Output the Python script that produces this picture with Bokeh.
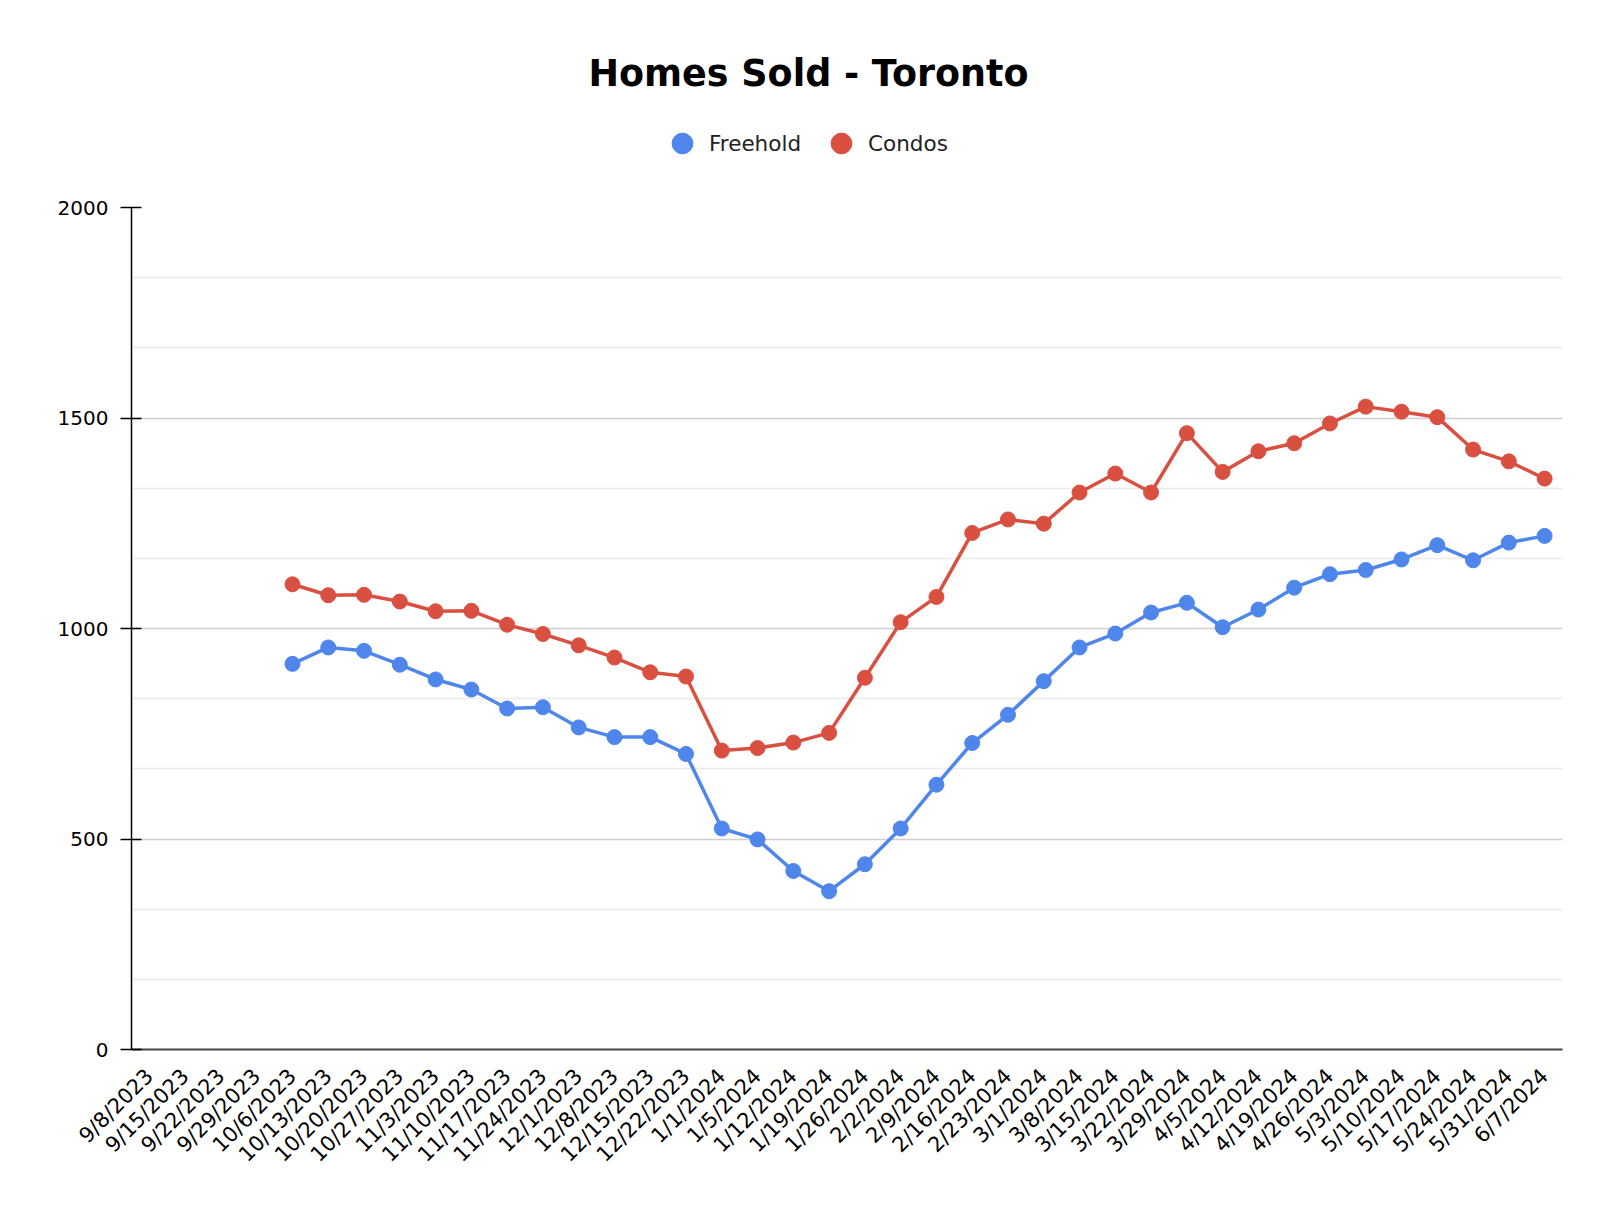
import math
from bokeh.plotting import figure
from bokeh.layouts import column
from bokeh.models import (FactorRange, Range1d, FixedTicker, Legend, LegendItem,
                          Label, ColumnDataSource)
from bokeh.embed import file_html
from bokeh.resources import INLINE

dates = ["9/8/2023", "9/15/2023", "9/22/2023", "9/29/2023", "10/6/2023", "10/13/2023",
         "10/20/2023", "10/27/2023", "11/3/2023", "11/10/2023", "11/17/2023", "11/24/2023",
         "12/1/2023", "12/8/2023", "12/15/2023", "12/22/2023", "1/1/2024", "1/5/2024",
         "1/12/2024", "1/19/2024", "1/26/2024", "2/2/2024", "2/9/2024", "2/16/2024",
         "2/23/2024", "3/1/2024", "3/8/2024", "3/15/2024", "3/22/2024", "3/29/2024",
         "4/5/2024", "4/12/2024", "4/19/2024", "4/26/2024", "5/3/2024", "5/10/2024",
         "5/17/2024", "5/24/2024", "5/31/2024", "6/7/2024"]

# values start at 10/6/2023
data_dates = dates[4:]
freehold = [916, 955, 947, 914, 879, 855, 810, 813, 765, 742, 742, 702,
            525, 499, 424, 376, 440, 525, 629, 728, 795, 875, 955, 988,
            1038, 1061, 1003, 1045, 1097, 1129, 1139, 1164, 1198, 1162, 1204, 1220]
condos = [1105, 1079, 1080, 1064, 1041, 1042, 1009, 987, 960, 931, 896, 886,
          710, 716, 729, 752, 883, 1015, 1075, 1227, 1259, 1249, 1323, 1368,
          1323, 1464, 1372, 1421, 1440, 1487, 1527, 1515, 1502, 1425, 1397, 1356]

y_major = [0, 500, 1000, 1500, 2000]
y_minor = [v * 500 / 3 for v in range(13) if v % 3 != 0]

TITLE = "Homes Sold - Toronto"
BLUE = "#4f86ec"
RED = "#d95040"
FONT = "DejaVu Sans"

W = 1614
HEAD_H = 187
LEFT, RIGHT = 131, 52

# ---- header: title + legend ----
head = figure(width=W, height=HEAD_H, x_range=Range1d(LEFT, W - RIGHT),
              y_range=Range1d(0, HEAD_H),
              x_axis_type=None, y_axis_type=None, output_backend="svg",
              toolbar_location=None, min_border_left=LEFT, min_border_right=RIGHT,
              min_border_top=0, min_border_bottom=0)
head.outline_line_color = None
head.grid.visible = False

dummy = ColumnDataSource(dict(x=[float("nan")], y=[float("nan")]))
lg_f = head.scatter("x", "y", source=dummy, fill_color=BLUE, line_color=BLUE)
lg_c = head.scatter("x", "y", source=dummy, fill_color=RED, line_color=RED)
legend = Legend(items=[LegendItem(label="Freehold", renderers=[lg_f]),
                       LegendItem(label="Condos", renderers=[lg_c])],
                orientation="horizontal", location=(525, 18),
                glyph_width=52, glyph_height=52, label_standoff=1, spacing=14,
                padding=0, margin=0, border_line_color=None,
                background_fill_alpha=0,
                label_text_font=FONT, label_text_font_size="21.5px",
                label_text_color="#222222")
head.add_layout(legend, "center")

title = Label(x=808, y=114.5, text=TITLE, text_align="center",
              text_baseline="alphabetic", text_font=FONT, text_font_style="bold",
              text_font_size="36.5px", text_color="black")
head.add_layout(title)

# ---- main chart ----
src = ColumnDataSource(dict(x=data_dates, freehold=freehold, condos=condos))

p = figure(x_range=FactorRange(*dates), y_range=Range1d(0, 2000),
           width=W, height=1025, output_backend="svg", toolbar_location=None,
           min_border_left=LEFT, min_border_right=RIGHT, min_border_top=20,
           min_border_bottom=163)
p.outline_line_color = None

p.xgrid.grid_line_color = None
p.ygrid.grid_line_color = "#cfcfcf"
p.ygrid.grid_line_width = 1.5
p.ygrid.minor_grid_line_color = "#ebebeb"
p.ygrid.minor_grid_line_width = 1.5
p.yaxis.ticker = FixedTicker(ticks=y_major, minor_ticks=y_minor)
p.yaxis.minor_tick_line_color = None
p.yaxis.major_tick_out = 11
p.yaxis.major_tick_in = 10
p.yaxis.major_tick_line_color = "black"
p.yaxis.major_tick_line_width = 1.5
p.yaxis.axis_line_color = "black"
p.yaxis.axis_line_width = 1.5
p.yaxis.major_label_text_font = FONT
p.yaxis.major_label_text_font_size = "20px"
p.yaxis.major_label_text_color = "black"
p.yaxis.major_label_standoff = 12

p.xaxis.major_tick_line_color = None
p.xaxis.axis_line_color = "#444444"
p.xaxis.axis_line_width = 2
p.xaxis.major_label_orientation = math.pi / 4
p.xaxis.major_label_text_font = FONT
p.xaxis.major_label_text_font_size = "21px"
p.xaxis.major_label_text_color = "black"
p.xaxis.major_label_standoff = 17

p.line("x", "freehold", source=src, line_color=BLUE, line_width=3.5)
p.scatter("x", "freehold", source=src, size=15, fill_color=BLUE, line_color=BLUE)
p.line("x", "condos", source=src, line_color=RED, line_width=3.5)
p.scatter("x", "condos", source=src, size=15, fill_color=RED, line_color=RED)

layout = column(head, p, spacing=0)
open("out.html", "w").write(file_html(layout, INLINE))
